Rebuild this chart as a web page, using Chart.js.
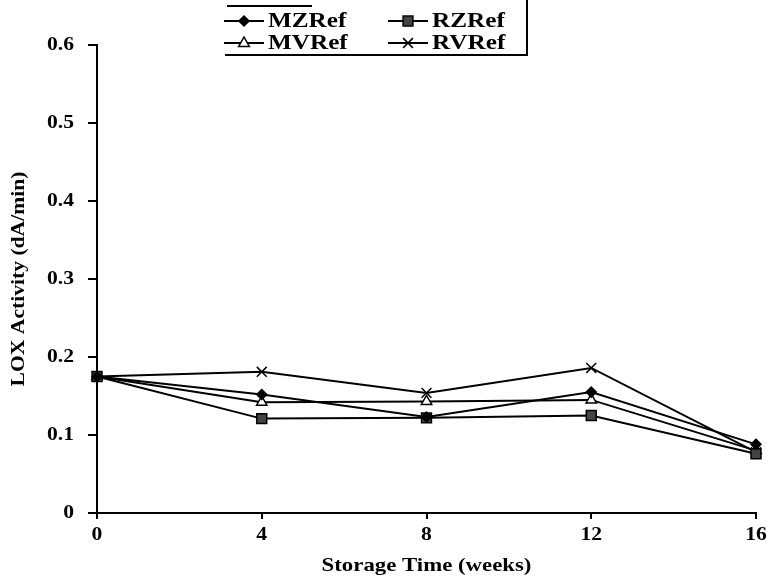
<!DOCTYPE html>
<html>
<head>
<meta charset="utf-8">
<script src="https://cdn.jsdelivr.net/npm/chart.js@4/dist/chart.umd.min.js"></script>
<style>
  html, body { margin: 0; padding: 0; background: #fff; }
  #wrap { width: 768px; height: 581px; }
</style>
</head>
<body>
<div id="wrap"><canvas id="lox"></canvas></div>
<script>
const weeks = ['0', '4', '8', '12', '16'];
const mzRef = [0.175, 0.152, 0.123, 0.155, 0.088];
const rzRef = [0.175, 0.121, 0.122, 0.125, 0.076];
const mvRef = [0.175, 0.142, 0.143, 0.145, 0.080];
const rvRef = [0.175, 0.181, 0.154, 0.186, 0.078];

const serif = "'Liberation Serif', 'Times New Roman', serif";
const TEXT_STRETCH = 1.2;   // the scanned figure has wide-set lettering

function series(label, data, style, radius, fill) {
  return {
    label, data,
    borderColor: '#000', borderWidth: 2,
    pointStyle: style, pointRadius: radius, pointHoverRadius: radius,
    pointBackgroundColor: fill, pointBorderColor: '#000', pointBorderWidth: 1.5,
    tension: 0, fill: false
  };
}

// draw one marker the same way the points look
function marker(ctx, style, x, y, r, fill) {
  ctx.save();
  ctx.fillStyle = fill; ctx.strokeStyle = '#000'; ctx.lineWidth = 1.5;
  ctx.beginPath();
  if (style === 'rectRot') {
    ctx.moveTo(x, y - r); ctx.lineTo(x + r, y); ctx.lineTo(x, y + r); ctx.lineTo(x - r, y); ctx.closePath();
    ctx.fill(); ctx.stroke();
  } else if (style === 'rect') {
    ctx.rect(x - r * 0.7, y - r * 0.7, r * 1.4, r * 1.4); ctx.fill(); ctx.stroke();
  } else if (style === 'triangle') {
    ctx.moveTo(x, y - r); ctx.lineTo(x + r * 0.9, y + r * 0.6); ctx.lineTo(x - r * 0.9, y + r * 0.6); ctx.closePath();
    ctx.fill(); ctx.stroke();
  } else {
    const d = r * 0.7;
    ctx.moveTo(x - d, y - d); ctx.lineTo(x + d, y + d); ctx.moveTo(x + d, y - d); ctx.lineTo(x - d, y + d);
    ctx.stroke();
  }
  ctx.restore();
}

const wideText = {
  id: 'wideText',
  beforeInit(chart) {
    const fill = CanvasRenderingContext2D.prototype.fillText;
    chart.ctx.fillText = function (t, x, y) {
      this.save();
      this.translate(x, y);
      this.scale(TEXT_STRETCH, 1);
      fill.call(this, t, 0, 0);
      this.restore();
    };
  }
};

const boxLegend = {
  id: 'boxLegend',
  afterDraw(chart) {
    const ctx = chart.ctx;
    ctx.save();
    ctx.strokeStyle = '#000'; ctx.lineWidth = 2;
    ctx.beginPath();
    ctx.moveTo(227, 6); ctx.lineTo(312, 6);
    ctx.moveTo(225, 55); ctx.lineTo(528, 55);
    ctx.moveTo(527, 0); ctx.lineTo(527, 56);
    ctx.stroke();
    ctx.font = 'bold 21px ' + serif;
    ctx.textBaseline = 'middle';
    ctx.fillStyle = '#000';
    const slots = [[224, 21], [388, 21], [224, 43], [388, 43]];
    chart.data.datasets.forEach((ds, k) => {
      const [x, y] = slots[k];
      ctx.lineWidth = 2;
      ctx.beginPath(); ctx.moveTo(x, y); ctx.lineTo(x + 40, y); ctx.stroke();
      marker(ctx, ds.pointStyle, x + 20, y, ds.pointRadius, ds.pointBackgroundColor);
      ctx.fillText(ds.label, x + 44, y + 1);
    });
    ctx.restore();
  }
};

new Chart(document.getElementById('lox'), {
  type: 'line',
  data: {
    labels: weeks,
    datasets: [
      series('MZRef', mzRef, 'rectRot', 5, '#000'),
      series('RZRef', rzRef, 'rect', 7, '#444'),
      series('MVRef', mvRef, 'triangle', 6, '#fff'),
      series('RVRef', rvRef, 'crossRot', 7, '#000')
    ]
  },
  options: {
    responsive: true,
    maintainAspectRatio: false,
    animation: false,
    layout: { padding: { top: 45, right: 12, left: 0, bottom: 0 } },
    plugins: {
      legend: { display: false },   // drawn by boxLegend
      tooltip: { enabled: false }
    },
    scales: {
      x: {
        offset: false,
        grid: { drawOnChartArea: false, drawTicks: true, tickLength: 6, color: '#000', lineWidth: 2 },
        border: { color: '#000', width: 2 },
        ticks: { color: '#000', padding: 6, maxRotation: 0, font: { family: serif, size: 18, weight: 'bold' } },
        title: { display: true, text: 'Storage Time (weeks)', color: '#000', padding: { top: 6, bottom: 4 },
                 font: { family: serif, size: 19, weight: 'bold' } },
        afterFit(scale) { scale.height = 68; scale.paddingRight = 0; }
      },
      y: {
        min: 0, max: 0.6,
        grid: { drawOnChartArea: false, drawTicks: true, tickLength: 9, color: '#000', lineWidth: 2 },
        border: { color: '#000', width: 2 },
        ticks: { stepSize: 0.1, color: '#000', padding: 14, font: { family: serif, size: 18, weight: 'bold' },
                 callback: v => v === 0 ? '0' : v.toFixed(1) },
        title: { display: true, text: 'LOX Activity (dA/min)', color: '#000', padding: { top: 9, bottom: 0 },
                 font: { family: serif, size: 18, weight: 'bold' } },
        afterFit(scale) { scale.width = 97; }
      }
    }
  },
  plugins: [wideText, boxLegend]
});
</script>
</body>
</html>
